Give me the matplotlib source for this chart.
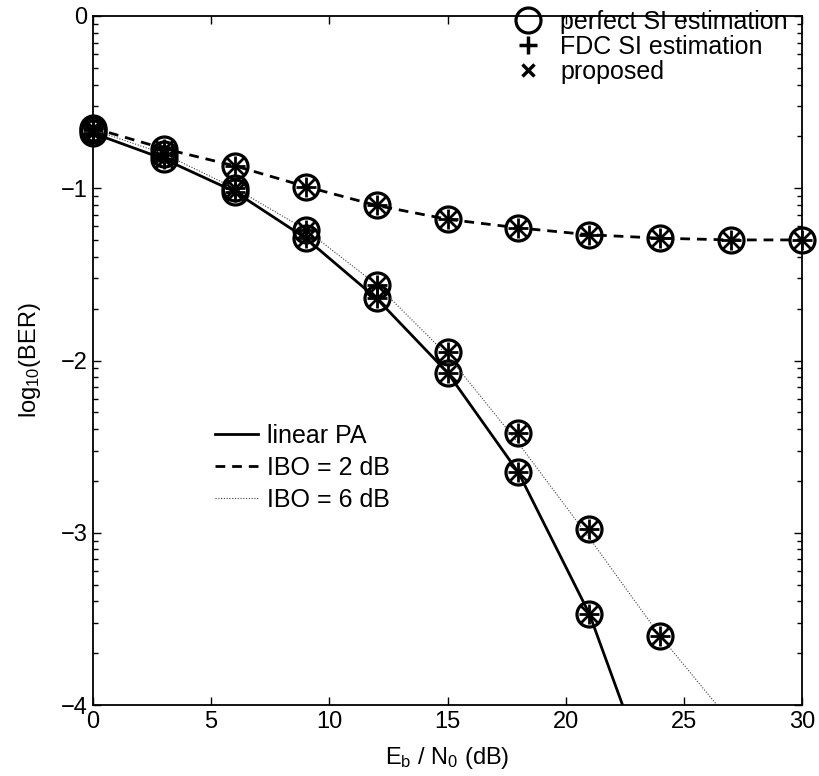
import numpy as np
import matplotlib
matplotlib.use("Agg")
import matplotlib.pyplot as plt
from matplotlib.lines import Line2D

plt.rcParams["font.family"] = ["Liberation Sans", "DejaVu Sans"]
plt.rcParams["mathtext.default"] = "regular"

# Eb/N0 points (dB)
snr = [0, 3, 6, 9, 12, 15, 18, 21, 24, 27, 30]

# log10(BER) for each PA model
linear_pa = [-0.68, -0.83, -1.02, -1.29, -1.64, -2.07, -2.65, -3.47, -4.60]
ibo2 = [-0.65, -0.77, -0.87, -0.99, -1.10, -1.18, -1.23, -1.27, -1.29, -1.30, -1.30]
ibo6 = [-0.66, -0.80, -1.00, -1.24, -1.56, -1.95, -2.42, -2.98, -3.60]
# the dotted IBO = 6 dB curve runs slightly off its markers
ibo6_curve = [-0.66, -0.80, -1.00, -1.24, -1.56, -1.97, -2.48, -3.03, -3.60, -4.10]

curve_labels = ["linear PA", "IBO = 2 dB", "IBO = 6 dB"]
marker_labels = ["perfect SI estimation", "FDC SI estimation", "proposed"]

fig = plt.figure(figsize=(8.19, 7.76), dpi=100)
ax = fig.add_axes([93 / 819, 1 - 705 / 776, (802 - 93) / 819, (705 - 16) / 776])

curves = [
    (linear_pa, linear_pa, "-", 2.0, "black"),
    (ibo2, ibo2, (0, (3.5, 2.5)), 2.0, "black"),
    (ibo6_curve, ibo6, (0, (1, 1.5)), 0.8, "#404040"),
]
line_handles = []
for line_vals, vals, ls, lw, col in curves:
    h, = ax.plot(snr[:len(line_vals)], line_vals, linestyle=ls, lw=lw, color=col)
    line_handles.append(h)
    x = snr[:len(vals)]
    # the three estimation methods land on the same points
    ax.plot(x, vals, "o", ms=18, mfc="none", mec="black", mew=2.3, clip_on=False)
    ax.plot(x, vals, "+", ms=15, mec="black", mew=2.0, clip_on=False)
    ax.plot(x, vals, "x", ms=11, mec="black", mew=2.0, clip_on=False)

ax.set_xlim(0, 30)
ax.set_ylim(-4, 0)
ax.set_xticks([0, 5, 10, 15, 20, 25, 30])
ax.set_yticks([-4, -3, -2, -1, 0])
ax.set_yticklabels(["\u22124", "\u22123", "\u22122", "\u22121", "0"])
minor = [n + np.log10(k) for n in range(-4, 0) for k in range(2, 10)]
ax.set_yticks(minor, minor=True)
ax.tick_params(which="both", direction="in", top=True, right=True,
               labelsize=17, width=1.0, pad=4)
ax.tick_params(which="major", length=6)
ax.tick_params(which="minor", length=3.5)
for s in ax.spines.values():
    s.set_linewidth(1.3)

ax.set_xlabel("E$_b$ / N$_0$ (dB)", fontsize=17, labelpad=9)
ax.set_ylabel("log$_{10}$(BER)", fontsize=17, labelpad=13)

mk_handles = [
    Line2D([], [], ls="none", marker="o", ms=18, mfc="none", mec="black", mew=2.3),
    Line2D([], [], ls="none", marker="+", ms=13, mec="black", mew=2.5),
    Line2D([], [], ls="none", marker="x", ms=9, mec="black", mew=2.5),
]
leg1 = ax.legend(mk_handles, marker_labels, loc="upper right",
                 bbox_to_anchor=(0.980, 1.009), frameon=False, fontsize=18,
                 handlelength=1.0, handletextpad=0.78, labelspacing=0.04,
                 borderaxespad=0, borderpad=0)
ax.add_artist(leg1)

ax.legend(line_handles, curve_labels, loc="upper left",
          bbox_to_anchor=(0.172, 0.408), frameon=False, fontsize=18,
          handlelength=1.72, handletextpad=0.36, labelspacing=0.32,
          borderaxespad=0, borderpad=0)

fig.savefig("out.png", dpi=100)
